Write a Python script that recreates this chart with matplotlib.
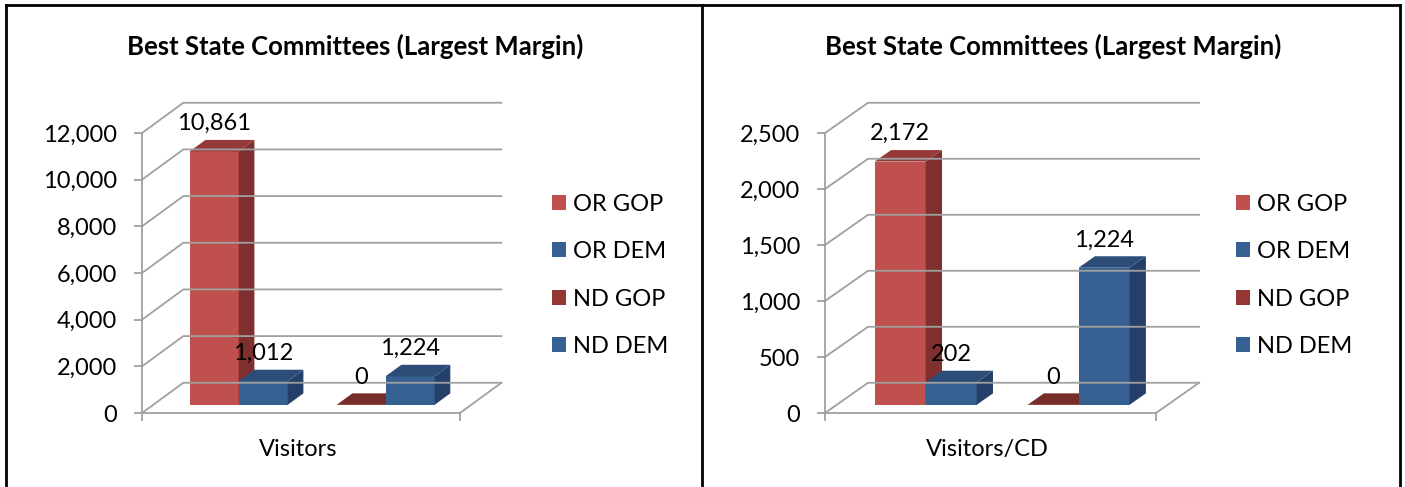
import matplotlib.pyplot as plt
from matplotlib.patches import Polygon, Patch
from matplotlib.lines import Line2D
from matplotlib.ticker import FuncFormatter

plt.rcParams['font.family'] = ['Lato', 'DejaVu Sans']

title = 'Best State Committees (Largest Margin)'
series = ['OR GOP', 'OR DEM', 'ND GOP', 'ND DEM']
slots = [0, 1, 3, 4]          # slot 2 stays empty in the original
visitors = [10861, 1012, 0, 1224]
visitors_cd = [2172, 202, 0, 1224]

front = ['#C0504D', '#376092', '#953735', '#376092']
side = ['#7F2F2D', '#24406A', '#632523', '#24406A']
top = ['#943A38', '#2C4D78', '#772C2A', '#2C4D78']
grid = '#a0a0a0'

W, H = 1405, 487
fig = plt.figure(figsize=(W / 100, H / 100), dpi=100)


def panel(px0, px1, values, ymax, step, xlabel):
    ax = fig.add_axes([px0 / W, (H - 413) / H, (px1 - px0) / W, 280 / H])
    ax.set_xlim(0, 1)
    ax.set_ylim(0, ymax)
    dx, dy = 0.13, 0.108 * ymax   # depth of floor and walls

    # walls + floor
    for v in range(0, ymax + 1, step):
        ax.plot([0, dx, 1 + dx], [v + 0, v + dy, v + dy], color=grid, lw=1.3, clip_on=False)
    ax.plot([1, 1 + dx], [0, dy], color=grid, lw=1.3, clip_on=False)

    # 3d bars
    w = 0.154
    gap = (1 - 5 * w) / 2
    z0, bd = 0.27, 0.38
    for i, v in enumerate(values):
        x = gap + slots[i] * w + z0 * dx
        y = z0 * dy
        ax.add_patch(Polygon([(x, y), (x + w, y), (x + w, y + v), (x, y + v)],
                             closed=True, fc=front[i], ec='none', clip_on=False))
        ax.add_patch(Polygon([(x + w, y), (x + w + bd * dx, y + bd * dy),
                              (x + w + bd * dx, y + bd * dy + v), (x + w, y + v)],
                             closed=True, fc=side[i], ec='none', clip_on=False))
        ax.add_patch(Polygon([(x, y + v), (x + w, y + v), (x + w + bd * dx, y + v + bd * dy),
                              (x + bd * dx, y + v + bd * dy)],
                             closed=True, fc=top[i], ec='none', clip_on=False))
        ax.annotate(f'{v:,}', (x + w / 2, y + v), xytext=(0, 20), textcoords='offset points',
                    ha='center', va='center', fontsize=17)

    for s in ['top', 'right']:
        ax.spines[s].set_visible(False)
    for s in ['left', 'bottom']:
        ax.spines[s].set_color(grid)
        ax.spines[s].set_linewidth(1.3)
    ax.set_yticks(range(0, ymax + 1, step))
    ax.yaxis.set_major_formatter(FuncFormatter(lambda v, p: f'{int(v):,}'))
    ax.set_xticks([0, 1])
    ax.set_xticklabels([])
    ax.tick_params(direction='out', length=6, width=1.3, color=grid, labelsize=17, pad=12)
    ax.annotate(xlabel, (0.5, 0), xycoords='axes fraction', xytext=(-2, -26),
                textcoords='offset points', ha='center', va='center', fontsize=17)
    ax.patch.set_visible(False)
    return ax


panel(142, 460, visitors, 12000, 2000, 'Visitors')
panel(825, 1156, visitors_cd, 2500, 500, 'Visitors/CD')

for cx in [355, 1053]:
    fig.text(cx / W, 1 - 46 / H, title, ha='center', va='center', fontsize=18.5, fontweight='bold')

handles = [Patch(fc=c, ec='none') for c in front[:2] + ['#953735', '#376092']]
for lx in [552, 1236]:
    fig.legend(handles, series, loc='center left', bbox_to_anchor=(lx / W, 1 - 275.5 / H),
               frameon=False, borderpad=0, borderaxespad=0, handlelength=0.6,
               handleheight=0.6, handletextpad=0.3, labelspacing=1.12, fontsize=17)

# outer frame and divider
for xs, ys in [([6, 1400], [5, 5]), ([1400, 1400], [5, 487]),
               ([6, 6], [5, 487]), ([702, 702], [5, 487])]:
    fig.add_artist(Line2D([x / W for x in xs], [1 - y / H for y in ys], color='black', lw=2))

fig.savefig('out.png', dpi=100)
